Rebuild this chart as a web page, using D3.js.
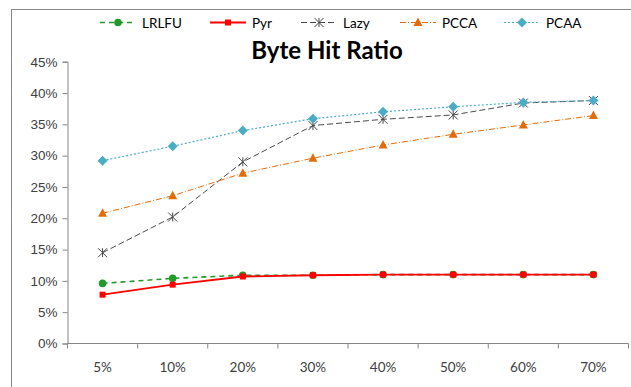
<!DOCTYPE html>
<html>
<head>
<meta charset="utf-8">
<script src="https://cdn.jsdelivr.net/npm/d3@7"></script>
<style>
  body { margin: 0; background: #fff; }
  svg { display: block; font-family: Lato, "Open Sans", sans-serif; }
</style>
</head>
<body>
<svg id="chart" width="631" height="387"></svg>
<script>
// data
const categories = ['5%', '10%', '20%', '30%', '40%', '50%', '60%', '70%'];
const lrlfu = [0.096, 0.104, 0.109, 0.109, 0.110, 0.110, 0.110, 0.110];
const pyr   = [0.078, 0.094, 0.107, 0.109, 0.110, 0.110, 0.110, 0.110];
const lazy  = [0.145, 0.202, 0.290, 0.348, 0.358, 0.365, 0.384, 0.388];
const pcca  = [0.208, 0.236, 0.272, 0.296, 0.317, 0.334, 0.349, 0.364];
const pcaa  = [0.292, 0.315, 0.340, 0.359, 0.370, 0.378, 0.385, 0.388];
const yTicks = [0, 0.05, 0.10, 0.15, 0.20, 0.25, 0.30, 0.35, 0.40, 0.45];

const series = [
    {name: 'LRLFU', values: lrlfu, color: '#22992a', width: 1.6, dash: '5,4', marker: 'circle'},
    {name: 'Pyr',   values: pyr,   color: '#ff0000', width: 1.8, dash: null, marker: 'square'},
    {name: 'Lazy',  values: lazy,  color: '#4a4a4a', width: 1, dash: '6,3', marker: 'asterisk'},
    {name: 'PCCA',  values: pcca,  color: '#e36c0a', width: 1, dash: '6,2,1,2', marker: 'triangle'},
    {name: 'PCAA',  values: pcaa,  color: '#4bacc6', width: 1.2, dash: '2,2', marker: 'diamond'}
];

const svg = d3.select('#chart');

// outer chart frame (runs off the right/bottom edges)
svg.append('rect')
    .attr('x', 11.5).attr('y', 9.5)
    .attr('width', 640).attr('height', 400)
    .attr('fill', 'none')
    .attr('stroke', '#868686')
    .attr('stroke-width', 1);

const plot = {left: 67.5, right: 628.5, top: 61.7, bottom: 343.5};

const x = d3.scaleBand()
    .domain(categories)
    .range([plot.left, plot.right]);

const y = d3.scaleLinear()
    .domain([0, 0.45])
    .range([plot.bottom, plot.top]);

const axisColor = '#868686';
const labelColor = '#404040';

// y axis
const yAxis = svg.append('g')
    .attr('transform', `translate(${plot.left},0)`)
    .call(d3.axisLeft(y).tickValues(yTicks).tickFormat(d3.format('.0%')).tickSize(5).tickPadding(5));
yAxis.select('.domain').attr('stroke', axisColor);
yAxis.selectAll('.tick line').attr('stroke', axisColor);
yAxis.selectAll('.tick text')
    .attr('fill', labelColor)
    .attr('font-size', 13.5);

// x axis, ticks sit between categories
const xAxis = svg.append('g')
    .attr('transform', `translate(0,${plot.bottom})`);
xAxis.append('line')
    .attr('x1', plot.left).attr('x2', plot.right)
    .attr('stroke', axisColor);
xAxis.selectAll('line.tick')
    .data(categories.concat(['end']))
    .join('line')
    .attr('class', 'tick')
    .attr('x1', (d, i) => i < categories.length ? x(d) : plot.right)
    .attr('x2', (d, i) => i < categories.length ? x(d) : plot.right)
    .attr('y1', 0).attr('y2', 5)
    .attr('stroke', axisColor);
xAxis.selectAll('text')
    .data(categories)
    .join('text')
    .attr('x', d => x(d) + x.bandwidth() / 2)
    .attr('y', 28)
    .attr('text-anchor', 'middle')
    .attr('fill', labelColor)
    .attr('font-size', 13.5)
    .text(d => d);

// title
svg.append('text')
    .attr('x', 327)
    .attr('y', 58.5)
    .attr('text-anchor', 'middle')
    .attr('font-size', 24)
    .attr('font-weight', 'bold')
    .attr('fill', '#000')
    .text('Byte Hit Ratio');

function drawMarker(g, type, color, cx, cy) {
    if (type === 'circle') {
        g.append('circle').attr('cx', cx).attr('cy', cy).attr('r', 3.8).attr('fill', color);
    } else if (type === 'square') {
        g.append('rect').attr('x', cx - 3).attr('y', cy - 3).attr('width', 6).attr('height', 6).attr('fill', color);
    } else if (type === 'triangle') {
        g.append('path')
            .attr('d', `M${cx},${cy - 5}L${cx + 4.5},${cy + 3.5}L${cx - 4.5},${cy + 3.5}Z`)
            .attr('fill', color);
    } else if (type === 'diamond') {
        g.append('path')
            .attr('d', `M${cx},${cy - 5}L${cx + 5},${cy}L${cx},${cy + 5}L${cx - 5},${cy}Z`)
            .attr('fill', color);
    } else if (type === 'asterisk') {
        const r = 4.5;
        g.append('path')
            .attr('d', `M${cx - r},${cy - r}L${cx + r},${cy + r}M${cx - r},${cy + r}L${cx + r},${cy - r}M${cx},${cy - r}L${cx},${cy + r}`)
            .attr('stroke', color)
            .attr('stroke-width', 1)
            .attr('fill', 'none');
    }
}

const line = d3.line()
    .x((d, i) => x(categories[i]) + x.bandwidth() / 2)
    .y(d => y(d));

for (const s of series) {
    const g = svg.append('g').attr('class', 'series');
    g.append('path')
        .datum(s.values)
        .attr('d', line)
        .attr('fill', 'none')
        .attr('stroke', s.color)
        .attr('stroke-width', s.width)
        .attr('stroke-dasharray', s.dash);
    s.values.forEach((v, i) => {
        drawMarker(g, s.marker, s.color, x(categories[i]) + x.bandwidth() / 2, y(v));
    });
}

// legend
const legendX = [100, 210, 301, 400, 504];
const legend = svg.append('g').attr('class', 'legend');
series.forEach((s, i) => {
    const lg = legend.append('g');
    const x0 = legendX[i];
    lg.append('line')
        .attr('x1', x0).attr('x2', x0 + 36)
        .attr('y1', 22.5).attr('y2', 22.5)
        .attr('stroke', s.color)
        .attr('stroke-width', s.width)
        .attr('stroke-dasharray', s.dash);
    drawMarker(lg, s.marker, s.color, x0 + 18, 22.5);
    lg.append('text')
        .attr('x', x0 + 42)
        .attr('y', 27.5)
        .attr('font-size', 13.5)
        .attr('fill', '#000')
        .text(s.name);
});
</script>
</body>
</html>
